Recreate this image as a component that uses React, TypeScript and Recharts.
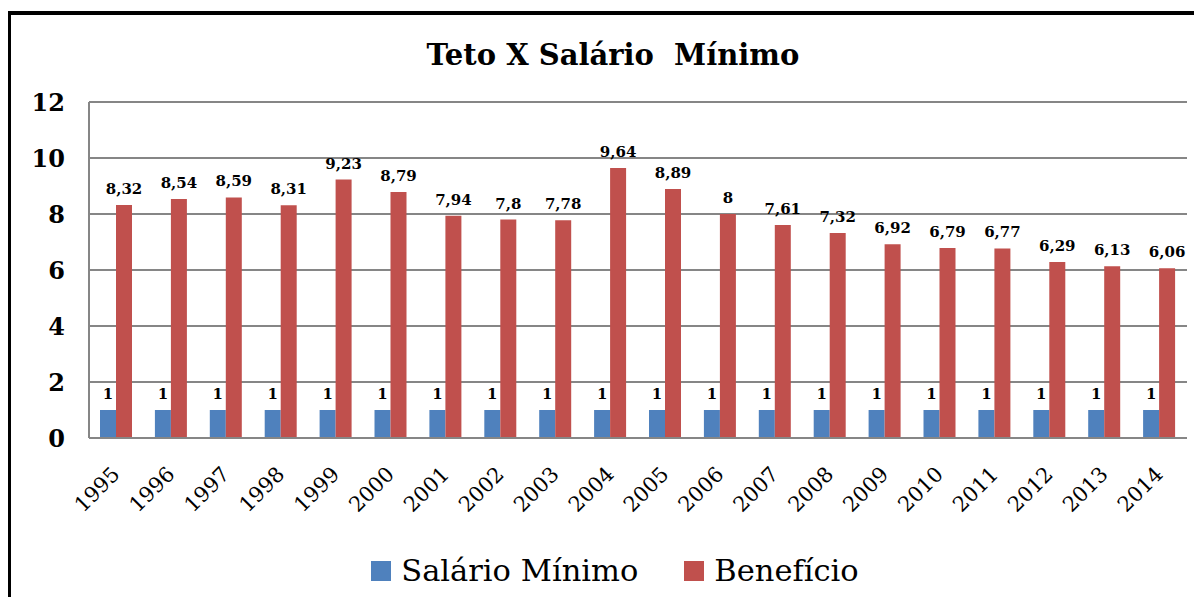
import React from 'react';
import {
    BarChart,
    Bar,
    XAxis,
    YAxis,
    CartesianGrid,
    LabelList
} from 'recharts';

const years = ['1995', '1996', '1997', '1998', '1999', '2000', '2001', '2002', '2003', '2004',
    '2005', '2006', '2007', '2008', '2009', '2010', '2011', '2012', '2013', '2014'];
const salarioMinimo = [1, 1, 1, 1, 1, 1, 1, 1, 1, 1, 1, 1, 1, 1, 1, 1, 1, 1, 1, 1];
const beneficio = [8.32, 8.54, 8.59, 8.31, 9.23, 8.79, 7.94, 7.8, 7.78, 9.64,
    8.89, 8, 7.61, 7.32, 6.92, 6.79, 6.77, 6.29, 6.13, 6.06];
const yTicks = [0, 2, 4, 6, 8, 10, 12];

const series = [
    { key: 'salario', name: 'Salário Mínimo', color: '#4F81BD' },
    { key: 'beneficio', name: 'Benefício', color: '#C0504D' }
];

const data = years.map((year, i) => ({
    year,
    salario: salarioMinimo[i],
    beneficio: beneficio[i]
}));

const serif = '"DejaVu Serif", serif';
const fmt = (v: any) => String(v).replace('.', ',');

export default function App() {
    return (
        <div style={{ position: 'relative', width: 1202, height: 605, margin: -8, overflow: 'hidden', background: '#fff' }}>
            <div style={{ position: 'absolute', left: 8, top: 11, width: 1300, height: 700, borderLeft: '3px solid #000', borderTop: '4px solid #000' }} />
            <div style={{ position: 'absolute', left: 0, width: 1226, top: 38, textAlign: 'center', fontFamily: serif, fontWeight: 'bold', fontSize: 29 }}>
                Teto X Salário&nbsp; Mínimo
            </div>
            <div style={{ position: 'absolute', left: 0, top: 0 }}>
                <BarChart width={1202} height={605} data={data} barGap={0} barSize={16}
                    margin={{ top: 102, right: 15, left: 0, bottom: 137 }}>
                    <CartesianGrid vertical={false} stroke="#868686" strokeWidth={2} />
                    <XAxis
                        dataKey="year"
                        height={30}
                        axisLine={{ stroke: '#868686', strokeWidth: 2 }}
                        tickLine={false}
                        interval={0}
                        angle={-45}
                        textAnchor="end"
                        tickSize={25}
                        dx={-6}
                        tick={{ fill: '#000', fontSize: 21, fontFamily: serif }}
                    />
                    <YAxis
                        width={89}
                        domain={[0, 12]}
                        ticks={yTicks}
                        axisLine={{ stroke: '#868686', strokeWidth: 2 }}
                        tickLine={false}
                        tickSize={22}
                        tick={{ fill: '#000', fontSize: 24, fontWeight: 'bold', fontFamily: serif }}
                    />
                    {series.map((s) => (
                        <Bar key={s.key} dataKey={s.key} name={s.name} fill={s.color} isAnimationActive={false}>
                            <LabelList dataKey={s.key} position="top" offset={11} formatter={fmt}
                                style={{ fill: '#000', fontSize: 15, fontWeight: 'bold', fontFamily: serif }} />
                        </Bar>
                    ))}
                </BarChart>
            </div>
            <div style={{ position: 'absolute', left: 28, width: 1174, top: 553, display: 'flex', justifyContent: 'center', alignItems: 'center', fontFamily: serif, fontSize: 30.5 }}>
                {series.map((s, i) => (
                    <div key={s.key} style={{ display: 'flex', alignItems: 'center', marginRight: i === 0 ? 46 : 0 }}>
                        <span style={{ display: 'inline-block', width: 20, height: 20, background: s.color, marginRight: 10 }} />
                        <span>{s.name}</span>
                    </div>
                ))}
            </div>
        </div>
    );
}
